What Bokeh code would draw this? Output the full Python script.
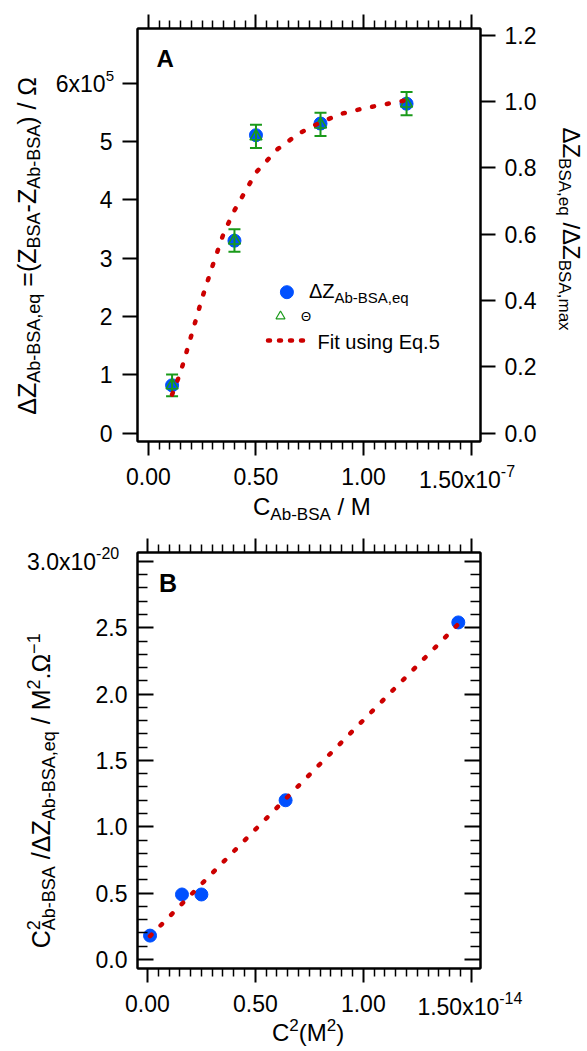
import html
from bokeh.plotting import figure
from bokeh.models import Range1d, LinearAxis, FixedTicker, CustomJSTickFormatter, GridBox, Div
from bokeh.embed import file_html
from bokeh.resources import INLINE

# ---------------- data ----------------
conc_M = [1.1e-8, 4.0e-8, 5.0e-8, 8.0e-8, 1.2e-7]
dZ_ohm = [0.82e5, 3.30e5, 5.11e5, 5.31e5, 5.65e5]
theta = [0.144, 0.581, 0.895, 0.931, 0.994]
theta_err = [0.033, 0.034, 0.035, 0.035, 0.035]

fitA_conc_M = [1.1e-8, 1.5e-8, 2.0e-8, 2.5e-8, 3.0e-8, 3.5e-8, 4.0e-8, 5.0e-8,
               6.0e-8, 7.0e-8, 8.0e-8, 9.0e-8, 1.0e-7, 1.1e-7, 1.2e-7]
fitA_dZ_ohm = [0.66e5, 1.05e5, 1.68e5, 2.32e5, 2.89e5, 3.43e5, 3.82e5, 4.47e5,
               4.87e5, 5.14e5, 5.33e5, 5.48e5, 5.57e5, 5.64e5, 5.71e5]

c2_M2 = [1.21e-16, 1.6e-15, 2.5e-15, 6.4e-15, 1.44e-14]
c2_over_dZ = [0.18e-20, 0.49e-20, 0.49e-20, 1.20e-20, 2.54e-20]
fitB_c2_M2 = [1.21e-16, 1.44e-14]
fitB_ratio = [0.176e-20, 2.528e-20]

# tick labels: plain strings, or (mantissa, exponent) drawn with a superscript
xA_ticks = [0.0, 5e-8, 1e-7, 1.5e-7]
xA_labels = ["0.00", "0.50", "1.00", ("1.50x10", "-7")]
yA_ticks = [0.0, 1e5, 2e5, 3e5, 4e5, 5e5, 6e5]
yA_labels = ["0", "1", "2", "3", "4", "5", ("6x10", "5")]
thA_ticks = [0.0, 0.2, 0.4, 0.6, 0.8, 1.0, 1.2]
thA_labels = ["0.0", "0.2", "0.4", "0.6", "0.8", "1.0", "1.2"]
xB_ticks = [0.0, 5e-15, 1e-14, 1.5e-14]
xB_labels = ["0.00", "0.50", "1.00", ("1.50x10", "-14")]
yB_ticks = [0.0, 0.5e-20, 1.0e-20, 1.5e-20, 2.0e-20, 2.5e-20, 3.0e-20]
yB_labels = ["0.0", "0.5", "1.0", "1.5", "2.0", "2.5", ("3.0x10", "-20")]

# ---------------- styling ----------------
BLUE = "#0050ff"
GREEN = "#1a9a1a"
RED = "#cc0000"
FONT = "Liberation Sans"
W = 587
HA, HB = 528, 523
frA = (137, 480, 28, 441)          # left, right, top, bottom (figure px)
frB = (134, 483, 24, 440)
xrA = (-0.0507e-7, 1.5437e-7)
yrA = (-0.144e5, 6.94e5)
thrA = (-0.0253, 1.2205)
xrB = (-0.046e-14, 1.5428e-14)
yrB = (-0.0678e-20, 3.067e-20)


def to_data(fr, xr, yr, px, py):
    l, r, t, b = fr
    x = xr[0] + (px - l) / (r - l) * (xr[1] - xr[0])
    y = yr[1] - (py - t) / (b - t) * (yr[1] - yr[0])
    return x, y


def svg_text(x, y, pieces, angle=0, anchor="start", weight="normal"):
    """pieces: (text, font px, baseline shift (+ = down), dx)"""
    parts = []
    cur = 0
    for t, sz, sh, dx in pieces:
        dy = sh - cur
        cur = sh
        parts.append(f'<tspan font-size="{sz}" dy="{dy}" dx="{dx}">{html.escape(t)}</tspan>')
    tr = f"translate({x},{y})" + (f" rotate({angle})" if angle else "")
    return (f'<text transform="{tr}" x="0" y="0" text-anchor="{anchor}" font-family="{FONT}" '
            f'font-weight="{weight}" fill="black" style="white-space:pre">' + "".join(parts) + "</text>")


def overlay(h, texts):
    svg = (f'<svg xmlns="http://www.w3.org/2000/svg" width="{W}" height="{h}" '
           f'style="position:absolute;left:0;top:0;display:block;overflow:visible">' + "".join(texts) + "</svg>")
    return Div(text=svg, width=W, height=h, margin=0,
               styles={"pointer-events": "none", "position": "relative"})


def fmt(tick_vals, tick_labels):
    plain = [t if isinstance(t, str) else "" for t in tick_labels]
    return CustomJSTickFormatter(args=dict(tv=tick_vals, tl=plain), code="""
        const tol = 1e-6 * Math.abs(tv[tv.length - 1] - tv[0]);
        for (let i = 0; i < tv.length; i++) {
            if (Math.abs(tick - tv[i]) <= tol) return tl[i];
        }
        return "";
    """)


def blank_fmt():
    return CustomJSTickFormatter(code="return '';")


def style_axis(ax, tin, tout, min_in, min_out, standoff, labels=True):
    ax.axis_label = None
    ax.axis_line_color = "black"
    ax.axis_line_width = 2
    ax.major_tick_line_color = "black"
    ax.major_tick_line_width = 2
    ax.minor_tick_line_color = "black"
    ax.minor_tick_line_width = 1.5
    ax.major_tick_in = tin
    ax.major_tick_out = tout
    ax.minor_tick_in = min_in
    ax.minor_tick_out = min_out
    ax.major_label_standoff = standoff
    ax.major_label_text_font = FONT
    ax.major_label_text_font_size = "23px"
    ax.major_label_text_color = "black" if labels else None


def make_fig(h, fr, xr, yr):
    l, r, t, b = fr
    p = figure(width=W, height=h, x_range=Range1d(*xr), y_range=Range1d(*yr),
               output_backend="svg", toolbar_location=None,
               x_axis_location=None, y_axis_location=None,
               min_border_left=l, min_border_right=W - r,
               min_border_top=t, min_border_bottom=h - b)
    p.grid.visible = False
    p.outline_line_color = "black"
    p.outline_line_width = 2
    p.background_fill_color = "white"
    p.border_fill_color = "white"
    return p


# ================= Panel A =================
pA = make_fig(HA, frA, xrA, yrA)
pA.extra_y_ranges = {"theta": Range1d(*thrA)}

xA_minor = [i * 5e-9 for i in range(31) if i % 10]
axb = LinearAxis(ticker=FixedTicker(ticks=xA_ticks, minor_ticks=xA_minor), formatter=fmt(xA_ticks, xA_labels))
style_axis(axb, 0, 14, 0, 8, 12)
pA.add_layout(axb, "below")
axt = LinearAxis(ticker=FixedTicker(ticks=xA_ticks, minor_ticks=xA_minor), formatter=blank_fmt())
style_axis(axt, 0, 14, 0, 8, 0, labels=False)
pA.add_layout(axt, "above")
axl = LinearAxis(ticker=FixedTicker(ticks=yA_ticks, minor_ticks=[]), formatter=fmt(yA_ticks, yA_labels))
style_axis(axl, 0, 15, 0, 0, 10)
pA.add_layout(axl, "left")
axr = LinearAxis(y_range_name="theta", ticker=FixedTicker(ticks=thA_ticks, minor_ticks=[]),
                 formatter=fmt(thA_ticks, thA_labels))
style_axis(axr, 0, 15, 0, 0, 9)
pA.add_layout(axr, "right")

pA.scatter(conc_M, dZ_ohm, size=13, fill_color=BLUE, line_color=BLUE)
th_lo = [t - e for t, e in zip(theta, theta_err)]
th_hi = [t + e for t, e in zip(theta, theta_err)]
pA.segment(conc_M, th_lo, conc_M, th_hi, line_color=GREEN, line_width=2, y_range_name="theta")
pA.scatter(conc_M, th_lo, marker="dash", size=12, line_color=GREEN, line_width=2, y_range_name="theta")
pA.scatter(conc_M, th_hi, marker="dash", size=12, line_color=GREEN, line_width=2, y_range_name="theta")
pA.scatter(conc_M, theta, marker="triangle", size=12, fill_color=None, line_color=GREEN,
           line_width=1.5, y_range_name="theta")
pA.line(fitA_conc_M, fitA_dZ_ohm, line_color=RED, line_width=4.5, line_dash="2 13", line_cap="round")

# legend swatches (inside the frame)
lx, ly = to_data(frA, xrA, yrA, 286.4, 291.7)
pA.scatter([lx], [ly], size=13, fill_color=BLUE, line_color=BLUE)
tx, ty = to_data(frA, xrA, yrA, 280, 315.7)
pA.scatter([tx], [ty], marker="triangle", size=9, fill_color=None, line_color=GREEN, line_width=1.2)
sx0, sy0 = to_data(frA, xrA, yrA, 267.5, 340)
sx1, sy1 = to_data(frA, xrA, yrA, 305.5, 340)
pA.line([sx0, sx1], [sy0, sy1], line_color=RED, line_width=4.5, line_dash="2 9", line_cap="round")

textsA = [
    svg_text(308.9, 298.3, [("ΔZ", 20, 0, 0), ("Ab-BSA,eq", 15, 5, 0)]),
    svg_text(301, 320.5, [("Θ", 13, 0, 0)]),
    svg_text(317.5, 348.5, [("Fit using Eq.5", 20, 0, 0)]),
    svg_text(156.5, 66.7, [("A", 24, 0, 0)], weight="bold"),
    svg_text(114, 92, [(yA_labels[-1][0], 23, 0, 0), (yA_labels[-1][1], 15, -11, 0)], anchor="end"),
    svg_text(419, 488, [(xA_labels[-1][0], 23, 0, 0), (xA_labels[-1][1], 16, -11, 0)]),
    svg_text(253, 515, [("C", 24, 0, 0), ("Ab-BSA", 17, 5, 0), (" / M", 24, 0, 0)]),
    svg_text(35.5, 245.8, [("ΔZ", 25, 0, 0), ("Ab-BSA,eq", 18, 4, 0), (" =(Z", 25, 0, 0),
                           ("BSA", 18, 4, 0), ("-Z", 25, 0, 0), ("Ab-BSA", 18, 4, 0),
                           (") / Ω", 25, 0, 0)], angle=-90, anchor="middle"),
    svg_text(563, 229, [("ΔZ", 24, 0, 0), ("BSA,eq", 17, 4, 0), (" /ΔZ", 24, 0, 0),
                        ("BSA,max", 17, 4, 0)], angle=90, anchor="middle"),
]
oA = overlay(HA, textsA)

# ================= Panel B =================
pB = make_fig(HB, frB, xrB, yrB)
xB_minor = [i * 5e-16 for i in range(31) if i % 10]
yB_minor = [i * 1e-21 for i in range(31) if i % 5]
bxb = LinearAxis(ticker=FixedTicker(ticks=xB_ticks, minor_ticks=xB_minor), formatter=fmt(xB_ticks, xB_labels))
style_axis(bxb, 0, 14, 0, 8, 12)
pB.add_layout(bxb, "below")
bxt = LinearAxis(ticker=FixedTicker(ticks=xB_ticks, minor_ticks=xB_minor), formatter=blank_fmt())
style_axis(bxt, 0, 14, 0, 8, 0, labels=False)
pB.add_layout(bxt, "above")
byl = LinearAxis(ticker=FixedTicker(ticks=yB_ticks, minor_ticks=yB_minor), formatter=fmt(yB_ticks, yB_labels))
style_axis(byl, 16, 0, 10, 0, 10)
pB.add_layout(byl, "left")
byr = LinearAxis(ticker=FixedTicker(ticks=yB_ticks, minor_ticks=yB_minor), formatter=blank_fmt())
style_axis(byr, 16, 0, 10, 0, 0, labels=False)
pB.add_layout(byr, "right")

pB.scatter(c2_M2, c2_over_dZ, size=13, fill_color=BLUE, line_color=BLUE)
pB.line(fitB_c2_M2, fitB_ratio, line_color=RED, line_width=4.5, line_dash="2 13", line_cap="round")

textsB = [
    svg_text(159, 63.7, [("B", 25, 0, 0)], weight="bold"),
    svg_text(27, 42.3, [(yB_labels[-1][0], 23, 0, 0), (yB_labels[-1][1], 16, -11, 0)]),
    svg_text(417.4, 487, [(xB_labels[-1][0], 23, 0, 0), (xB_labels[-1][1], 16, -11, 0)]),
    svg_text(308, 513, [("C", 24, 0, 0), ("2", 17, -10, 0), ("(M", 24, 0, 0), ("2", 17, -10, 0),
                        (")", 24, 0, 0)], anchor="middle"),
    svg_text(50, 262.8, [("C", 25, 0, 0), ("2", 18, -10, 0), ("Ab-BSA", 18, 5, -10), (" /ΔZ", 25, 0, 0),
                         ("Ab-BSA,eq", 18, 5, 0), (" / M", 25, 0, 0), ("2", 18, -10, 0), (".Ω", 25, 0, 0),
                         ("−1", 18, -10, 0)], angle=-90, anchor="middle"),
]
oB = overlay(HB, textsB)

layout = GridBox(children=[(pA, 0, 0), (oA, 0, 0), (pB, 1, 0), (oB, 1, 0)], spacing=0)
open("out.html", "w", encoding="utf-8").write(file_html(layout, INLINE))
